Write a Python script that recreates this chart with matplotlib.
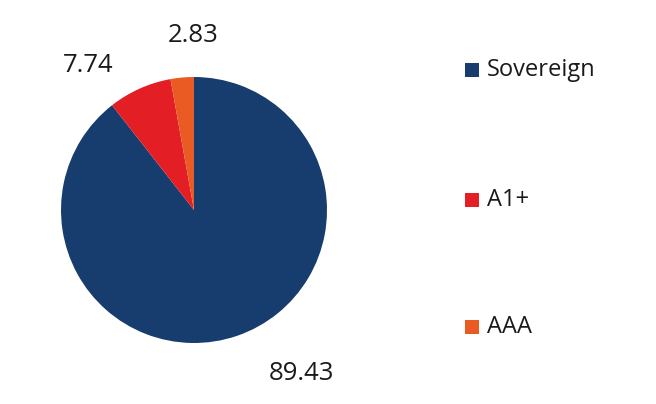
import matplotlib
matplotlib.use("Agg")
from matplotlib import pyplot as plt
from matplotlib.patches import Rectangle

plt.rcParams['font.family'] = ['Open Sans', 'DejaVu Sans']

categories = ["Sovereign", "A1+", "AAA"]
values = [89.43, 7.74, 2.83]
labels = ["89.43", "7.74", "2.83"]
colors = ["#173c6e", "#e31e24", "#ea5b24"]

W, H = 656, 404
fig = plt.figure(figsize=(W / 100, H / 100), dpi=100)

# pie axes: centre (194, 210) px, radius 133 px
cx, cy, r = 194, 210, 133
ax = fig.add_axes([(cx - r) / W, (H - cy - r) / H, 2 * r / W, 2 * r / H])
ax.pie(values, colors=colors, startangle=90, counterclock=False,
       radius=1.0, wedgeprops=dict(linewidth=0))
ax.set_xlim(-1, 1)
ax.set_ylim(-1, 1)
ax.set_aspect('equal')
ax.axis('off')

# value labels (pixel positions of the text centres)
label_pos = [(301, 374), (88, 66), (193, 36)]
for txt, (x, y) in zip(labels, label_pos):
    fig.text(x / W, 1 - y / H, txt, ha='center', va='center', fontsize=18.5, color='#1a1a1a')

# legend
leg_y = [70, 200, 327]
for name, col, y in zip(categories, colors, leg_y):
    fig.patches.append(Rectangle((465 / W, 1 - (y + 7) / H), 14 / W, 14 / H,
                                 transform=fig.transFigure, facecolor=col, edgecolor='none'))
    fig.text(487 / W, 1 - y / H, name, ha='left', va='center', fontsize=17, color='#1a1a1a')

fig.savefig("out.png", dpi=100)
